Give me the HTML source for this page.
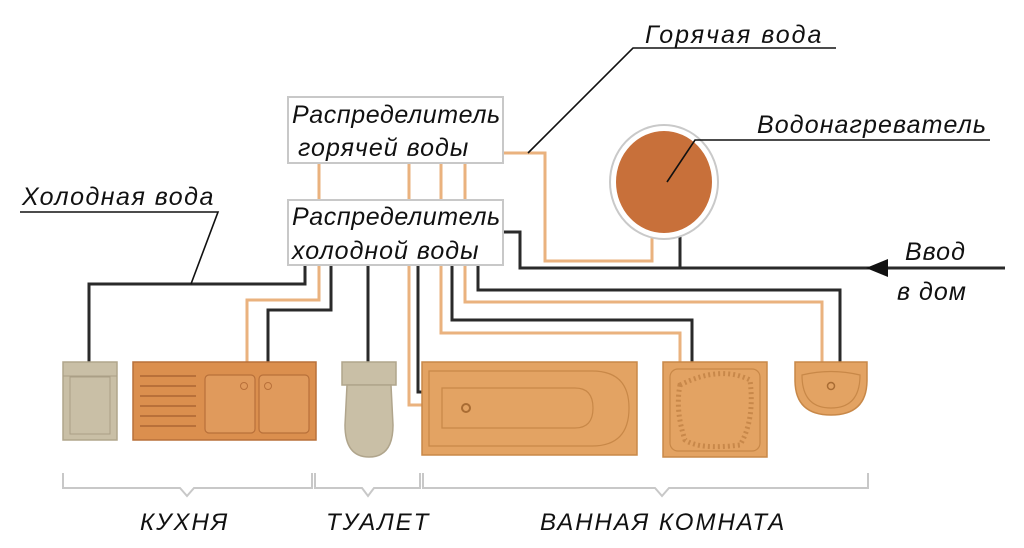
<!DOCTYPE html>
<html><head><meta charset="utf-8"><style>
html,body{margin:0;padding:0;background:#fff;}
svg{display:block;}
text{font-family:"Liberation Sans","DejaVu Sans",sans-serif;font-style:italic;fill:#111;}
</style></head><body>
<svg width="1024" height="548" viewBox="0 0 1024 548" xmlns="http://www.w3.org/2000/svg">
<g fill="none" stroke-linejoin="miter">
<g stroke="#eab27e" stroke-width="3">
<line x1="319" y1="163" x2="319" y2="200"/>
<line x1="409" y1="163" x2="409" y2="200"/>
<line x1="441" y1="163" x2="441" y2="200"/>
<line x1="465" y1="163" x2="465" y2="200"/>
<polyline points="503,153 545,153 545,261 652,261 652,230"/>
<polyline points="319,265 319,300 247,300 247,362"/>
<polyline points="409,265 409,405 422,405"/>
<polyline points="441,265 441,333 680,333 680,362"/>
<polyline points="465,265 465,302 822,302 822,362"/>
</g>
<g stroke="#2a2a2a" stroke-width="3">
<polyline points="305,265 305,284 89,284 89,362"/>
<polyline points="331,265 331,310 268,310 268,362"/>
<line x1="368" y1="265" x2="368" y2="362"/>
<polyline points="418,265 418,392 422,392"/>
<polyline points="452,265 452,320 692,320 692,362"/>
<polyline points="478,265 478,290 840,290 840,362"/>
<polyline points="503,232 520,232 520,268 1005,268"/>
<line x1="680" y1="234" x2="680" y2="268"/>
</g>
</g>
<polygon points="866,268 888,259 888,277" fill="#111"/>
<ellipse cx="664" cy="182" rx="54" ry="57" fill="#fff" stroke="#c9c9c9" stroke-width="2"/>
<ellipse cx="664" cy="182" rx="48" ry="51" fill="#c8703a"/>
<rect x="288" y="97" width="215" height="66" fill="#fff" stroke="#c8c8c8" stroke-width="2"/>
<rect x="288" y="200" width="215" height="65" fill="#fff" stroke="#c8c8c8" stroke-width="2"/>
<text x="292" y="123" font-size="25" letter-spacing="0.6">Распределитель</text>
<text x="298" y="156" font-size="25" letter-spacing="1">горячей воды</text>
<text x="292" y="225" font-size="25" letter-spacing="0.6">Распределитель</text>
<text x="292" y="259" font-size="25" letter-spacing="1">холодной воды</text>
<g stroke="#111" stroke-width="1.6" fill="none">
<polyline points="528,153 633,48 836,48"/>
<polyline points="667,182 695,140 990,140"/>
<polyline points="191,284 218,212 20,212"/>
</g>
<text x="645" y="43" font-size="25" letter-spacing="2">Горячая вода</text>
<text x="757" y="133" font-size="25" letter-spacing="1.1">Водонагреватель</text>
<text x="22" y="205" font-size="25" letter-spacing="1.5">Холодная вода</text>
<text x="905" y="260" font-size="25" letter-spacing="1">Ввод</text>
<text x="897" y="300" font-size="25" letter-spacing="1">в дом</text>
<rect x="63" y="362" width="54" height="78" fill="#c9bfa6" stroke="#b0a58c" stroke-width="1.5"/>
<rect x="70" y="377" width="40" height="57" fill="none" stroke="#aa9f86" stroke-width="1"/>
<line x1="63" y1="376" x2="117" y2="376" stroke="#aa9f86"/>
<rect x="133" y="362" width="183" height="78" fill="#db8f4e" stroke="#b8703a" stroke-width="1.5"/>
<g stroke="#b8703a" stroke-width="2">
<line x1="140" y1="376" x2="196" y2="376"/><line x1="140" y1="386" x2="196" y2="386"/>
<line x1="140" y1="396" x2="196" y2="396"/><line x1="140" y1="406" x2="196" y2="406"/>
<line x1="140" y1="416" x2="196" y2="416"/><line x1="140" y1="426" x2="196" y2="426"/>
</g>
<rect x="205" y="375" width="50" height="58" rx="4" fill="#e09a5c" stroke="#b8703a" stroke-width="1.2"/>
<rect x="259" y="375" width="50" height="58" rx="4" fill="#e09a5c" stroke="#b8703a" stroke-width="1.2"/>
<circle cx="244" cy="386" r="3.5" fill="none" stroke="#b8703a"/>
<circle cx="268" cy="386" r="3.5" fill="none" stroke="#b8703a"/>
<rect x="342" y="362" width="54" height="23" fill="#c9bfa6" stroke="#b0a58c" stroke-width="1.5"/>
<path d="M347,385 L391,385 L393,425 Q393,457 369,457 Q345,457 345,425 Z" fill="#c9bfa6" stroke="#b0a58c" stroke-width="1.5"/>
<rect x="422" y="362" width="215" height="93" fill="#e3a363" stroke="#c88848" stroke-width="1.5"/>
<path d="M429,371 L592,371 Q629,371 629,408 Q629,446 592,446 L429,446 Z" fill="none" stroke="#c88848" stroke-width="1.2"/>
<path d="M442,388 L575,388 Q593,388 593,408 Q593,428 575,428 L442,428 Z" fill="none" stroke="#c88848" stroke-width="1.2"/>
<circle cx="466" cy="408" r="4" fill="none" stroke="#a96c33" stroke-width="2"/>
<rect x="663" y="362" width="104" height="95" fill="#e3a363" stroke="#c88848" stroke-width="1.5"/>
<rect x="670" y="369" width="90" height="82" rx="8" fill="none" stroke="#c88848" stroke-width="1.2"/>
<path d="M680,385 Q720,365 750,380 Q755,420 740,445 Q700,450 685,440 Q675,410 680,385 Z" fill="none" stroke="#c8884a" stroke-width="5" stroke-dasharray="2 3"/>
<path d="M795,362 L867,362 L867,380 Q867,415 831,415 Q795,415 795,380 Z" fill="#e3a363" stroke="#c88848" stroke-width="1.5"/>
<path d="M802,375 Q831,368 860,375 Q860,408 831,408 Q802,408 802,375 Z" fill="none" stroke="#c88848" stroke-width="1.2"/>
<circle cx="831" cy="386" r="3.5" fill="none" stroke="#a96c33" stroke-width="1.5"/>
<g stroke="#c8c8c8" stroke-width="2" fill="none">
<polyline points="63,473 63,488 180,488 187,496 194,488 312,488 312,473"/>
<polyline points="315,473 315,488 362,488 368,496 374,488 420,488 420,473"/>
<polyline points="423,473 423,488 655,488 662,496 669,488 868,488 868,473"/>
</g>
<text x="140" y="530" font-size="24" letter-spacing="2">КУХНЯ</text>
<text x="326" y="530" font-size="24" letter-spacing="2">ТУАЛЕТ</text>
<text x="540" y="530" font-size="24" letter-spacing="2">ВАННАЯ КОМНАТА</text>
</svg>
</body></html>
